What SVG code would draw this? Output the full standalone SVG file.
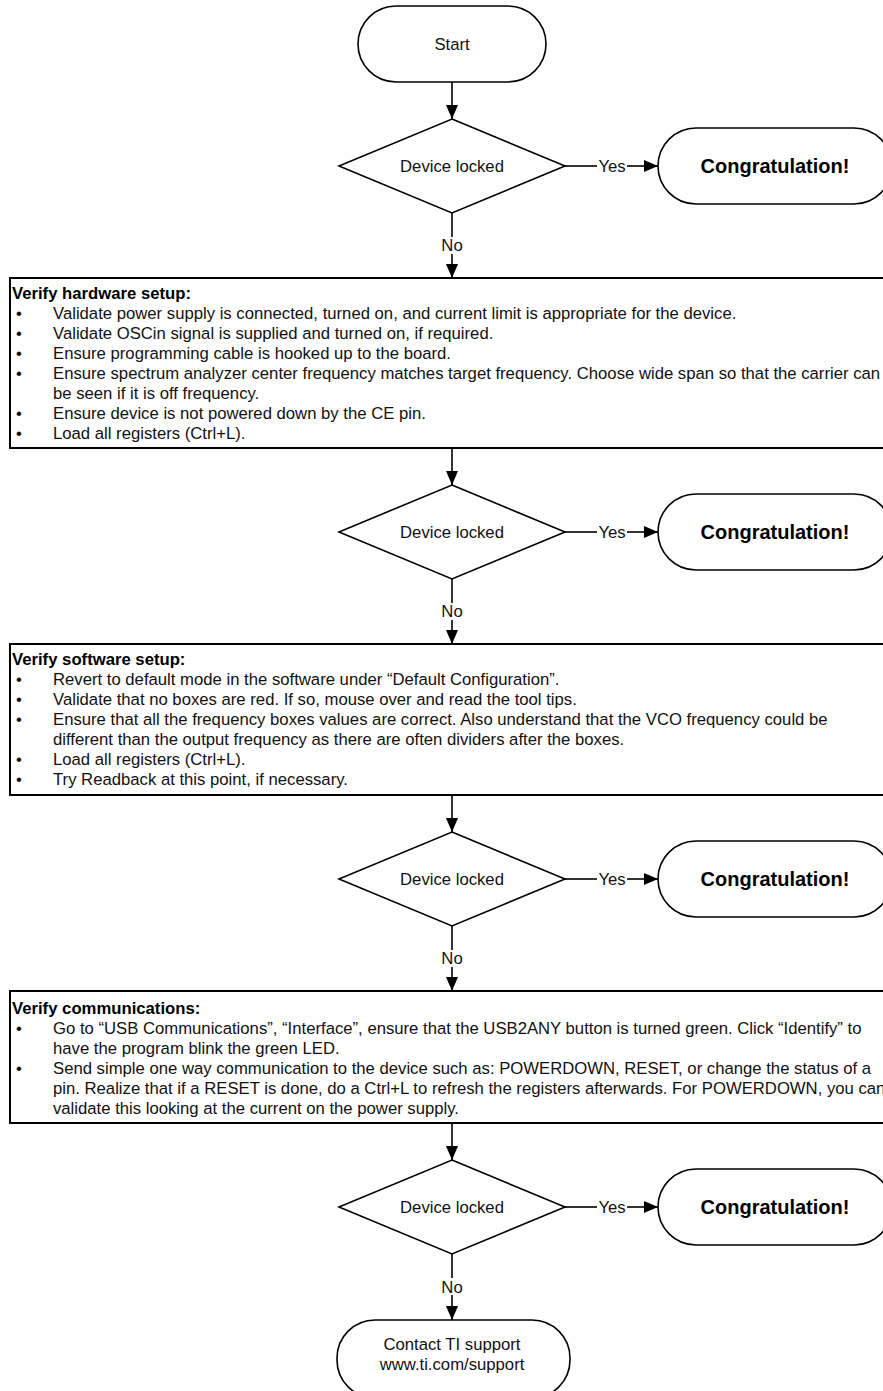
<svg xmlns="http://www.w3.org/2000/svg" width="883" height="1391" viewBox="0 0 883 1391">
<defs>
<marker id="arr" markerUnits="userSpaceOnUse" markerWidth="14" markerHeight="12" refX="14" refY="6" orient="auto"><path d="M0,0 L14,6 L0,12 z" fill="#000"/></marker>
<style>
.sh{fill:#fff;stroke:#000;stroke-width:1.6}
.bx{fill:#fff;stroke:#000;stroke-width:2}
.t{font-family:"Liberation Sans",Arial,sans-serif;font-size:16.7px;fill:#111}
.c{text-anchor:middle}
.b{font-weight:bold;fill:#000}
.big{font-family:"Liberation Sans",Arial,sans-serif;font-size:20px;font-weight:bold;fill:#000;text-anchor:middle}
.ln{fill:none;stroke:#000;stroke-width:1.6}
</style>
</defs>
<rect width="883" height="1391" fill="#fff"/>
<g id="connectors">
<path class="ln" d="M452,82 V119" marker-end="url(#arr)"/>
<path class="ln" d="M565,166 H597"/><path class="ln" d="M627,166 H658" marker-end="url(#arr)"/>
<path class="ln" d="M452,213 V237"/><path class="ln" d="M452,254 V278" marker-end="url(#arr)"/>
<path class="ln" d="M452,448 V485" marker-end="url(#arr)"/>
<path class="ln" d="M565,532 H597"/><path class="ln" d="M627,532 H658" marker-end="url(#arr)"/>
<path class="ln" d="M452,579 V603"/><path class="ln" d="M452,620 V644" marker-end="url(#arr)"/>
<path class="ln" d="M452,795 V832" marker-end="url(#arr)"/>
<path class="ln" d="M565,879 H597"/><path class="ln" d="M627,879 H658" marker-end="url(#arr)"/>
<path class="ln" d="M452,926 V950"/><path class="ln" d="M452,967 V991" marker-end="url(#arr)"/>
<path class="ln" d="M452,1123 V1160" marker-end="url(#arr)"/>
<path class="ln" d="M565,1207 H597"/><path class="ln" d="M627,1207 H658" marker-end="url(#arr)"/>
<path class="ln" d="M452,1254 V1278"/><path class="ln" d="M452,1295 V1320" marker-end="url(#arr)"/>
<text class="t c" x="612" y="172">Yes</text>
<text class="t c" x="452" y="251">No</text>
<text class="t c" x="612" y="538">Yes</text>
<text class="t c" x="452" y="617">No</text>
<text class="t c" x="612" y="885">Yes</text>
<text class="t c" x="452" y="964">No</text>
<text class="t c" x="612" y="1213">Yes</text>
<text class="t c" x="452" y="1293">No</text>
</g>
<g id="start"><rect class="sh" x="358" y="6" width="188" height="76" rx="38"/><text class="t c" x="452" y="50">Start</text></g>
<g id="decision1"><polygon class="sh" points="452,119 565,166 452,213 339,166"/><text class="t c" x="452" y="172">Device locked</text></g>
<g id="congrat1"><rect class="sh" x="658" y="128" width="234" height="76" rx="38"/><text class="big" x="775" y="173">Congratulation!</text></g>
<g id="hardware">
<rect class="bx" x="10" y="278" width="900" height="170"/>
<text class="t b" x="12" y="299">Verify hardware setup:</text>
<text class="t" x="16" y="319">•</text><text class="t" x="53" y="319">Validate power supply is connected, turned on, and current limit is appropriate for the device.</text>
<text class="t" x="16" y="339">•</text><text class="t" x="53" y="339">Validate OSCin signal is supplied and turned on, if required.</text>
<text class="t" x="16" y="359">•</text><text class="t" x="53" y="359">Ensure programming cable is hooked up to the board.</text>
<text class="t" x="16" y="379">•</text><text class="t" x="53" y="379">Ensure spectrum analyzer center frequency matches target frequency. Choose wide span so that the carrier can</text>
<text class="t" x="53" y="399">be seen if it is off frequency.</text>
<text class="t" x="16" y="419">•</text><text class="t" x="53" y="419">Ensure device is not powered down by the CE pin.</text>
<text class="t" x="16" y="439">•</text><text class="t" x="53" y="439">Load all registers (Ctrl+L).</text>
</g>
<g id="decision2"><polygon class="sh" points="452,485 565,532 452,579 339,532"/><text class="t c" x="452" y="538">Device locked</text></g>
<g id="congrat2"><rect class="sh" x="658" y="494" width="234" height="76" rx="38"/><text class="big" x="775" y="539">Congratulation!</text></g>
<g id="software">
<rect class="bx" x="10" y="644" width="900" height="151"/>
<text class="t b" x="12" y="665">Verify software setup:</text>
<text class="t" x="16" y="685">•</text><text class="t" x="53" y="685">Revert to default mode in the software under “Default Configuration”.</text>
<text class="t" x="16" y="705">•</text><text class="t" x="53" y="705">Validate that no boxes are red. If so, mouse over and read the tool tips.</text>
<text class="t" x="16" y="725">•</text><text class="t" x="53" y="725">Ensure that all the frequency boxes values are correct. Also understand that the VCO frequency could be</text>
<text class="t" x="53" y="745">different than the output frequency as there are often dividers after the boxes.</text>
<text class="t" x="16" y="765">•</text><text class="t" x="53" y="765">Load all registers (Ctrl+L).</text>
<text class="t" x="16" y="785">•</text><text class="t" x="53" y="785">Try Readback at this point, if necessary.</text>
</g>
<g id="decision3"><polygon class="sh" points="452,832 565,879 452,926 339,879"/><text class="t c" x="452" y="885">Device locked</text></g>
<g id="congrat3"><rect class="sh" x="658" y="841" width="234" height="76" rx="38"/><text class="big" x="775" y="886">Congratulation!</text></g>
<g id="communications">
<rect class="bx" x="10" y="991" width="900" height="132"/>
<text class="t b" x="12" y="1014">Verify communications:</text>
<text class="t" x="16" y="1034">•</text><text class="t" x="53" y="1034">Go to “USB Communications”, “Interface”, ensure that the USB2ANY button is turned green. Click “Identify” to</text>
<text class="t" x="53" y="1054">have the program blink the green LED.</text>
<text class="t" x="16" y="1074">•</text><text class="t" x="53" y="1074">Send simple one way communication to the device such as: POWERDOWN, RESET, or change the status of a</text>
<text class="t" x="53" y="1094">pin. Realize that if a RESET is done, do a Ctrl+L to refresh the registers afterwards. For POWERDOWN, you can</text>
<text class="t" x="53" y="1114">validate this looking at the current on the power supply.</text>
</g>
<g id="decision4"><polygon class="sh" points="452,1160 565,1207 452,1254 339,1207"/><text class="t c" x="452" y="1213">Device locked</text></g>
<g id="congrat4"><rect class="sh" x="658" y="1169" width="234" height="76" rx="38"/><text class="big" x="775" y="1214">Congratulation!</text></g>
<g id="contact"><rect class="sh" x="337" y="1320" width="233" height="78" rx="38"/><text class="t c" x="452" y="1350">Contact TI support</text><text class="t c" x="452" y="1370">www.ti.com/support</text></g>
</svg>
